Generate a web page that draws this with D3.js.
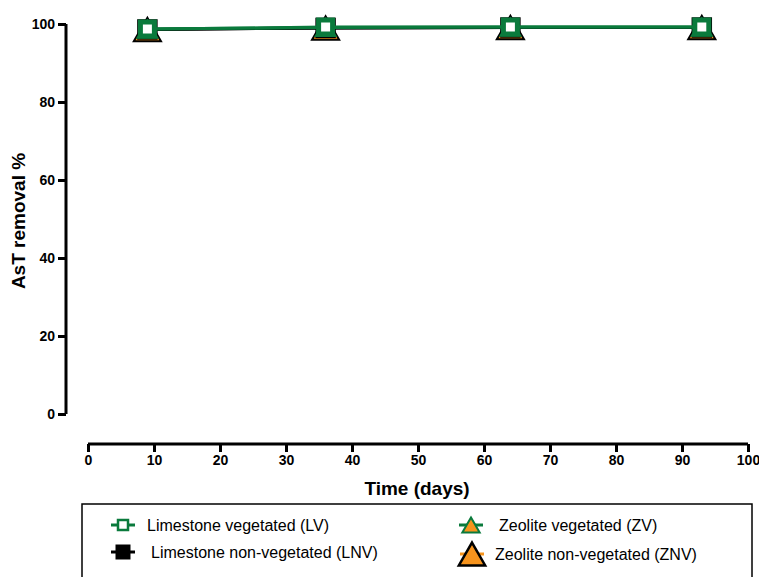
<!DOCTYPE html>
<html>
<head>
<meta charset="utf-8">
<script src="https://cdn.jsdelivr.net/npm/d3@7/dist/d3.min.js"></script>
<style>
  body { margin: 0; background: #fff; }
  text { font-family: "Liberation Sans", Arial, sans-serif; }
</style>
</head>
<body>
<svg id="chart" width="759" height="577"></svg>
<script>
// days sampled
const days = [9, 36, 64, 93];
// AsT removal % per treatment
const lnv = [98.6, 99.0, 99.1, 99.1];
const znv = [98.6, 99.0, 99.1, 99.1];
const zv = [98.7, 99.1, 99.2, 99.2];
const lv = [98.7, 99.2, 99.2, 99.2];

const xTicks = [0, 10, 20, 30, 40, 50, 60, 70, 80, 90, 100];
const yTicks = [0, 20, 40, 60, 80, 100];

const svg = d3.select("#chart");

let x = d3.scaleLinear().domain([0, 100]).range([88, 748]);
let y = d3.scaleLinear().domain([0, 100]).range([414, 24]);

// y axis (offset left like the original)
let yAxis = d3.axisLeft(y).tickValues(yTicks).tickSize(8).tickPadding(3);
let gy = svg.append("g").attr("transform", "translate(66,0)").call(yAxis);
gy.select(".domain").attr("stroke", "#000").attr("stroke-width", 3)
  .attr("d", "M0," + y(0) + "V" + y(100));
gy.selectAll(".tick line").attr("stroke", "#000").attr("stroke-width", 3);
gy.selectAll(".tick text").attr("font-size", 14).attr("font-weight", "bold").attr("fill", "#000");

// x axis
let xAxis = d3.axisBottom(x).tickValues(xTicks).tickSize(8).tickPadding(3);
let gx = svg.append("g").attr("transform", "translate(0,444)").call(xAxis);
gx.select(".domain").attr("stroke", "#000").attr("stroke-width", 3)
  .attr("d", "M" + x(0) + ",0H" + x(100));
gx.selectAll(".tick line").attr("stroke", "#000").attr("stroke-width", 3);
gx.selectAll(".tick text").attr("font-size", 14).attr("font-weight", "bold").attr("fill", "#000");

svg.append("text")
  .attr("x", x(50) - 1).attr("y", 495)
  .attr("text-anchor", "middle")
  .attr("font-size", 19).attr("font-weight", "bold")
  .text("Time (days)");

svg.append("text")
  .attr("transform", "translate(25," + (y(50) + 2) + ") rotate(-90)")
  .attr("text-anchor", "middle")
  .attr("font-size", 19).attr("font-weight", "bold")
  .text("AsT removal %");

const green = "#0a7a3c";
const orange = "#f7941d";

let line = d3.line().x((d, i) => x(days[i])).y(d => y(d));

// symbol helper; triangles shifted so the box is centred on the point
function marker(shape, size) {
  let type = shape == "tri" ? d3.symbolTriangle : d3.symbolSquare;
  return d3.symbol().type(type).size(size)();
}
function markerShift(shape, size) {
  if (shape != "tri") return 0;
  let h = 3 * Math.sqrt(size / (3 * Math.sqrt(3)));
  return h / 6;
}

// series drawn back to front
let series = [
  {vals: znv, color: "#000", shape: "tri", size: 320, fill: orange, stroke: "#000", sw: 2},
  {vals: lnv, color: "#000", shape: "sq", size: 420, fill: "#000", stroke: "none", sw: 0},
  {vals: zv, color: green, shape: "tri", size: 170, fill: orange, stroke: green, sw: 2},
  {vals: lv, color: green, shape: "sq", size: 196, fill: "#fff", stroke: green, sw: 5}
];

series.forEach(s => {
  svg.append("path")
    .datum(s.vals)
    .attr("d", line)
    .attr("fill", "none")
    .attr("stroke", s.color)
    .attr("stroke-width", 3);
  svg.selectAll(null)
    .data(s.vals)
    .enter()
    .append("path")
    .attr("d", marker(s.shape, s.size))
    .attr("transform", (d, i) => "translate(" + x(days[i]) + "," + (y(d) + markerShift(s.shape, s.size)) + ")")
    .attr("fill", s.fill)
    .attr("stroke", s.stroke)
    .attr("stroke-width", s.sw);
});

// legend
svg.append("rect")
  .attr("x", 82).attr("y", 504).attr("width", 670).attr("height", 90)
  .attr("fill", "none").attr("stroke", "#000").attr("stroke-width", 1.5);

const legendLabels = ["Limestone vegetated (LV)", "Limestone non-vegetated (LNV)", "Zeolite vegetated (ZV)", "Zeolite non-vegetated (ZNV)"];
let legendItems = [
  {mx: 123, my: 525, tx: 147, s: series[3], size: 100, sw: 2.5, lc: green},
  {mx: 123, my: 552, tx: 151, s: series[1], size: 225, sw: 0, lc: "#000"},
  {mx: 471, my: 525, tx: 499, s: series[2], size: 130, sw: 2, lc: green},
  {mx: 472, my: 554, tx: 495, s: series[0], size: 300, sw: 2.5, lc: orange}
];
legendItems.forEach((it, i) => {
  svg.append("line")
    .attr("x1", it.mx - 12).attr("x2", it.mx + 12)
    .attr("y1", it.my).attr("y2", it.my)
    .attr("stroke", it.lc).attr("stroke-width", 3);
  svg.append("path")
    .attr("d", marker(it.s.shape, it.size))
    .attr("transform", "translate(" + it.mx + "," + (it.my + markerShift(it.s.shape, it.size)) + ")")
    .attr("fill", it.s.fill)
    .attr("stroke", it.s.stroke)
    .attr("stroke-width", it.sw);
  svg.append("text")
    .attr("x", it.tx).attr("y", it.my + 6)
    .attr("font-size", 16)
    .text(legendLabels[i]);
});
</script>
</body>
</html>
